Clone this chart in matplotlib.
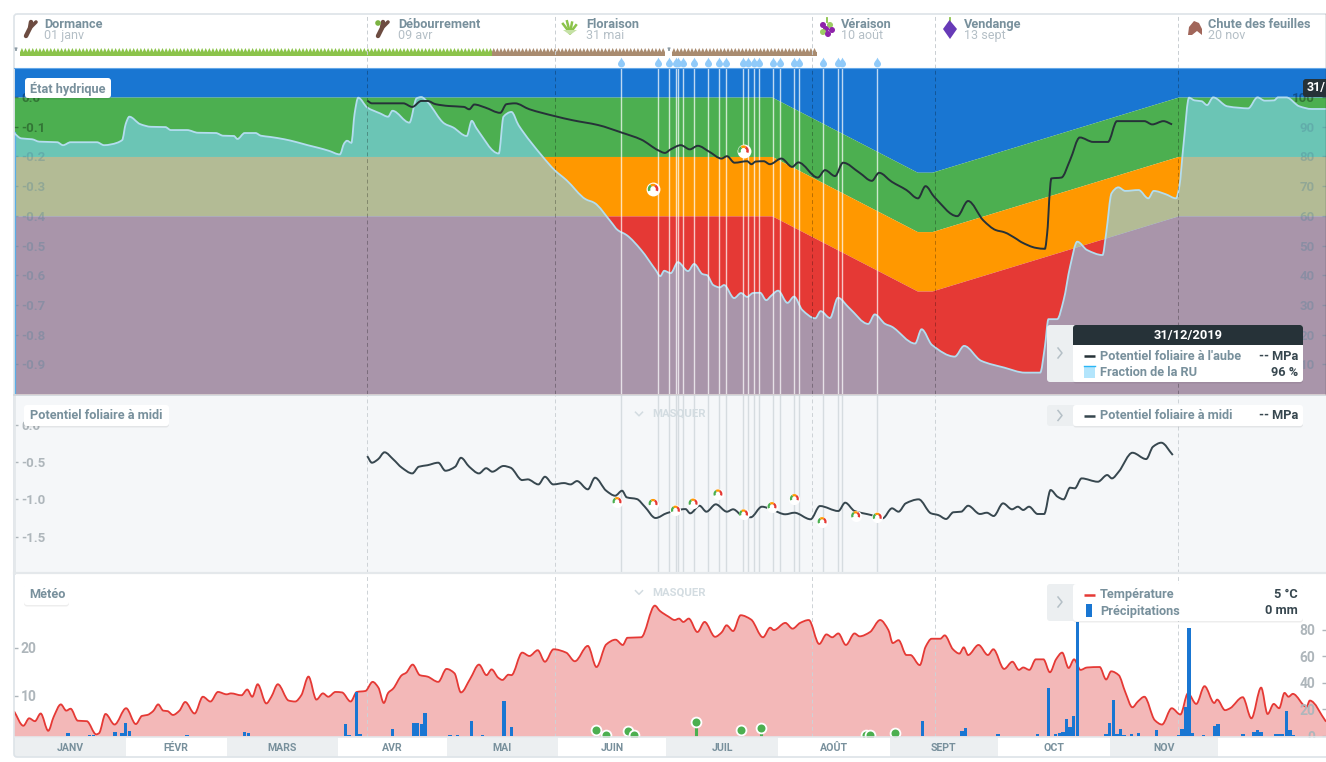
import numpy as np
import matplotlib
matplotlib.use("Agg")
import matplotlib.pyplot as plt
from matplotlib.patches import FancyBboxPatch, Rectangle, Circle, Polygon, PathPatch
from matplotlib.path import Path

plt.rcParams['font.family'] = ['Roboto', 'DejaVu Sans']
plt.rcParams['font.weight'] = 'bold'
plt.rcParams['axes.linewidth'] = 0

# ---- donnees (x = jour de l'annee 2019, 0 = 1er janv)
month_names = ["JANV", "FÉVR", "MARS", "AVR", "MAI", "JUIN", "JUIL", "AOÛT", "SEPT", "OCT", "NOV", ""]
month_days = [31, 28, 31, 30, 31, 30, 31, 31, 30, 31, 30, 30]

stage_names = ["Dormance", "Débourrement", "Floraison", "Véraison", "Vendange", "Chute des feuilles"]
stage_dates = ["01 janv", "09 avr", "31 mai", "10 août", "13 sept", "20 nov"]
stage_days = [98, 150, 221.4, 255.5, 323]

zone_days = [0, 210.3, 250.6, 254.7, 323, 364]
zone_shift = [0, 0, -0.253, -0.253, 0, 0]

irrig_days = [168.5, 178.6, 181.6, 183.6, 184.2, 185.5, 188.6, 192.5, 195.5, 197.4, 202.2,
              203.7, 205.3, 206.6, 210.5, 212.5, 216.4, 217.8, 224.4, 228.5, 229.6, 239.5]

ru_days = [0, 2, 5, 7, 12, 13.6, 15.7, 23, 25, 27, 30, 31, 32, 35, 38, 42, 43.5, 48, 51, 56, 58, 61, 62, 64, 67,
           68.5, 71, 75, 78.5, 81.5, 84.5, 87.4, 90.4, 91.6, 92.4, 93.6, 94.5, 95.5, 98, 101.6, 103.8, 105,
           109.7, 111.7, 113, 114.7, 119.4, 121.8, 125.6, 127, 128.3, 134.5, 135.8, 138, 140, 146.7, 150,
           153.3, 158.6, 161, 165.6, 167.5, 170, 174, 178, 179.3, 180.4, 182.2, 184.2, 187, 188.7, 191, 192.3,
           194, 195.8, 197, 199.8, 201.7, 203.4, 205, 207, 208.7, 210, 212, 214.6, 216.4, 218.7, 222.3, 223.8,
           226.4, 228.6, 231.7, 237, 238.8, 241.7, 243.5, 250, 251.8, 254.7, 261, 263.6, 268.3, 274.7, 280.5,
           284.7, 286, 287, 289.4, 291.2, 293, 295, 297.7, 302, 303, 304.5, 306.4, 308.3, 312, 314.7, 316.2,
           319.5, 322.4, 323.3, 324.5, 326, 327.5, 329.5, 331, 332.7, 336.6, 340, 342.4, 345, 347, 349.6, 350.7,
           353, 356.6, 360, 364]
ru_values = [87.9, 86.1, 85.8, 85, 84.8, 83.8, 84.8, 84.8, 83.8, 84.1, 85.5, 91, 93.4, 90.9, 90, 89.9, 88.9, 88.9, 88,
             87.9, 87, 86.9, 85.9, 87.9, 87.9, 87, 86.6, 85.8, 84.8, 83.8, 82.9, 81.9, 80.7, 84.4, 85.3, 84.6, 94.5,
             99.8, 96.5, 94.5, 93.4, 95.4, 91.4, 99.6, 100, 98.4, 91.1, 89.8, 86.9, 92, 89.5, 81, 93.4, 95, 90.5,
             79.9, 75.4, 72, 65.6, 64.4, 58, 55.2, 53.5, 48.5, 41.8, 39.7, 41.5, 40.7, 44.4, 41.4, 43.8, 40.4, 40,
             36.7, 35.9, 36.7, 32.3, 34, 32.7, 34, 34.1, 31.6, 33, 34.8, 30.7, 32.8, 28.3, 25.5, 27.9, 25.6, 32.4,
             29, 23.6, 26.8, 23.6, 22.7, 17, 21.8, 16.5, 12.6, 16.2, 11.2, 8.9, 7.2, 7.2, 15.9, 25.2, 25.2, 31.6,
             42.9, 51.3, 48.5, 46.8, 54.1, 67.6, 69.6, 68.4, 68.7, 65.9, 68.4, 67.3, 65.9, 69.8, 84.4, 99.8, 98.9,
             98.6, 97.3, 99.9, 96.9, 96.4, 96.2, 99.9, 98.8, 98.9, 99.9, 99.9, 96.9, 96, 96]

dawn_days = [98, 99.3, 108, 110.5, 113, 114.7, 117, 120.6, 124.8, 126.3, 127.7, 130.7, 134.9, 136.6, 139, 143, 150,
             155, 162, 168.7, 174, 178.7, 180.6, 182.2, 185, 187.5, 189.7, 192.9, 196.3, 197.8, 199.9, 203.4,
             204.6, 205.8, 208, 209.7, 212.9, 215.9, 217.6, 223, 225, 227.8, 230, 234.6, 238, 240, 243.5, 247.6,
             250.8, 252.9, 255.3, 261.7, 264.7, 268.9, 272.4, 274.7, 278.3, 279.4, 283.6, 286, 286.8, 287.2,
             287.8, 290.6, 293, 295.7, 299.4, 303.5, 306, 313.6, 315.8, 318.9, 321.3]
dawn_values = [-0.012, -0.021, -0.021, -0.033, -0.013, -0.013, -0.024, -0.03, -0.033, -0.041, -0.025, -0.035, -0.053,
               -0.024, -0.021, -0.041, -0.064, -0.078, -0.094, -0.12, -0.143, -0.179, -0.188, -0.176, -0.162, -0.176,
               -0.164, -0.184, -0.207, -0.199, -0.221, -0.216, -0.226, -0.217, -0.216, -0.226, -0.207, -0.235, -0.22,
               -0.271, -0.246, -0.266, -0.221, -0.255, -0.282, -0.255, -0.285, -0.313, -0.341, -0.3, -0.336, -0.401,
               -0.35, -0.415, -0.448, -0.455, -0.479, -0.488, -0.508, -0.511, -0.437, -0.347, -0.274, -0.271, -0.212,
               -0.136, -0.151, -0.151, -0.081, -0.081, -0.092, -0.081, -0.092]
dawn_meas_days = [177.3, 202.4]
dawn_meas_values = [-0.31, -0.181]

noon_days = [98, 99.3, 101, 102.8, 105.2, 107.6, 110.5, 112.3, 114.7, 117.7, 119.7, 122.4, 124, 126.3, 129, 131, 132.7,
             135.8, 137.8, 141, 142.5, 145.5, 147.3, 149.6, 152.6, 154.4, 156.2, 159.2, 161.2, 164.3, 166.8, 168.7,
             170, 172.8, 175, 178, 181.2, 186.3, 187.6, 190.2, 192.1, 194.7, 197.8, 199.5, 202.4, 204.4, 207.5,
             210.5, 214, 216.5, 221, 223.6, 228.7, 230.6, 233.2, 237.8, 241, 243.6, 245.4, 247.4, 251, 254.4, 256.4,
             258.6, 260.6, 262.8, 264.7, 268, 269.9, 271.8, 274.4, 276.9, 278.5, 280, 281.6, 284, 285.8, 287.6,
             289.5, 291.2, 293, 294.3, 296.2, 300.7, 303.3, 304.6, 306.5, 310.3, 314.1, 316, 318.3, 321.5]
noon_values = [-0.417, -0.506, -0.46, -0.366, -0.46, -0.573, -0.65, -0.56, -0.54, -0.506, -0.614, -0.56, -0.44, -0.56,
               -0.65, -0.58, -0.627, -0.55, -0.574, -0.74, -0.73, -0.798, -0.695, -0.798, -0.78, -0.798, -0.753,
               -0.864, -0.708, -0.883, -0.95, -0.883, -0.972, -0.995, -1.098, -1.25, -1.183, -1.13, -1.187, -1.085,
               -1.165, -1.066, -1.165, -1.133, -1.232, -1.24, -1.098, -1.142, -1.2, -1.179, -1.267, -1.089, -1.156,
               -1.044, -1.156, -1.21, -1.254, -1.12, -1.165, -1.053, -0.999, -1.187, -1.21, -1.263, -1.173, -1.165,
               -1.085, -1.196, -1.179, -1.223, -1.053, -1.133, -1.098, -1.142, -1.098, -1.196, -1.196, -0.874, -0.963,
               -0.999, -0.842, -0.851, -0.717, -0.762, -0.672, -0.717, -0.627, -0.372, -0.457, -0.291, -0.237, -0.403]
noon_meas_days = [167.3, 177.3, 183.5, 188.4, 195.3, 202.4, 210.3, 216.5, 224.2, 233.5, 239.5]
noon_meas_values = [-1.03, -1.055, -1.145, -1.05, -0.927, -1.196, -1.098, -0.99, -1.30, -1.22, -1.24]

temp_days = [0, 2.6, 4.2, 5.8, 7.4, 9.5, 11, 13, 14.5, 15.7, 17.7, 20.2, 22.8, 23.6, 25.4, 27.9, 31.1, 33.8, 35.5, 37,
             38.6, 40, 41.4, 42.6, 44.1, 45.9, 47.5, 50.1, 52.4, 54.5, 56.6, 59, 60.2, 63.1, 64.7, 66.1, 67.6, 70,
             71.4, 73.2, 76.2, 78, 79.7, 81.7, 83.9, 85.7, 87.2, 89.2, 91, 93.4, 95.1, 97.5, 99.5, 101.1, 102.6,
             103.8, 105.2, 107.6, 108.8, 110.6, 112.6, 114.7, 117.7, 120, 122.2, 124, 126.6, 129, 131.1, 132.5, 134.3,
             135.5, 137.2, 138, 141, 143, 145.3, 147.3, 149.7, 153.2, 155.6, 159.2, 161.6, 164.3, 166.9, 168.9,
             170.2, 174, 177.8, 179.2, 181.6, 183.3, 184.5, 185.7, 187.2, 189.6, 191.6, 194.5, 196.3, 197.7, 199.5,
             201.6, 204.5, 207.8, 209.8, 210.8, 214, 216, 218.1, 220.5, 223.4, 225.4, 227, 228.7, 230.8, 233.2, 234.6,
             237.5, 240.3, 242.6, 243.8, 245.4, 247.6, 248.7, 251.3, 252.9, 254.6, 257, 258.2, 260.5, 262.3, 263.5,
             264.7, 267.6, 270.2, 271.7, 274.7, 277, 278.8, 280, 281.7, 283.5, 285.6, 287.4, 289.1, 290.8, 292.6,
             294.1, 295.9, 297.7, 301.2, 303, 304.4, 306.5, 308.3, 310.3, 311.8, 313.6, 316.5, 318.5, 321.2, 323.6,
             325.7, 328, 330.3, 333, 333.8, 336, 337.4, 340.9, 343.3, 346, 347.8, 349.5, 351, 352.5, 353.6, 354.8,
             358.6, 359.5, 364]
temp_values = [6.8, 3.75, 5.3, 4.7, 6.3, 2.7, 5.6, 8.2, 6.9, 7.3, 4.8, 4.7, 1.95, 2.2, 6.2, 4, 7.4, 4.1, 5.8, 6, 6.8,
               8.2, 6.9, 6.8, 6, 6.9, 8.7, 6.3, 9.8, 8.8, 10.8, 10.3, 10.5, 10.1, 11.3, 9.8, 12.4, 8.4, 9.8, 12.4, 9,
               8.8, 10.1, 14, 9.2, 10.5, 9.8, 10.8, 10.7, 8.8, 10.8, 11, 12.9, 11.7, 8.5, 10.6, 11.5, 14.3, 14.8, 16.5,
               14.3, 14, 12.9, 15.6, 14.7, 10.7, 13.6, 16.5, 14.3, 15.5, 13.8, 13.3, 14.4, 14.3, 19, 18.3, 19.5, 17.1,
               19.7, 19, 17.2, 20.4, 16, 20.7, 21.7, 20.6, 22.1, 22.2, 28.8, 27.7, 26.5, 25.8, 26.1, 25.4, 26.1, 23.3,
               25.4, 22.3, 23.2, 24.7, 23.5, 26.8, 25.9, 22.2, 24.2, 23.7, 25.2, 24, 25.2, 25.8, 20.8, 22.8, 22.2, 23,
               20.6, 23, 22.4, 23.3, 25.8, 23.7, 21, 21.6, 18.5, 18.5, 16.4, 20.2, 21.9, 21.9, 22.6, 19.7, 18.8, 20.1,
               18.5, 20.6, 18.5, 19.7, 15.6, 17.1, 15.4, 15.9, 15.4, 17.6, 17.6, 14.9, 17.6, 19, 15.8, 17.6, 15.4,
               15.9, 16, 13.4, 15.1, 14.3, 10.8, 7.6, 8.8, 9.8, 4.9, 4, 7.4, 6.1, 10.5, 8.3, 12, 8.5, 9.2, 7, 7.4, 9.7,
               5.3, 11.7, 6.2, 8.3, 7.4, 10.6, 9.8, 10.4, 7.7, 9, 4.6]

rain_days = [15, 21, 22, 28, 30, 31, 32, 48, 64, 65, 92, 93, 95, 96, 105, 111, 112, 113, 114, 121, 123, 127, 130, 136,
             138, 252, 263, 264, 273, 284, 287, 289, 290, 291, 292, 293, 294, 295, 303, 304, 305, 306, 307, 308, 310,
             312, 317, 323, 324, 325, 326, 327, 330, 333, 334, 341, 344, 345, 346, 350, 351, 352, 353, 354, 355]
rain_values = [2, 0.5, 0.5, 3, 2, 9.5, 3.8, 0.8, 3, 2, 9, 0.8, 33, 1.5, 5.3, 10, 10, 9.3, 17.5, 0.8, 0.8, 11.3, 0.8, 26.6,
               7, 11.3, 3.8, 6.3, 1.5, 1.5, 36, 1.5, 2.5, 3.3, 12.8, 7, 15.3, 86, 1.5, 9.5, 27, 1.5, 5.3, 0.8, 1.5, 2.5,
               4.5, 0.5, 5.3, 21.8, 81, 2.5, 0.8, 7.5, 9, 1.5, 3, 4.5, 3, 1.5, 1.5, 1.2, 18.8, 4.5, 0.8]

water_days = [161.5, 164.3, 170.4, 172, 189.2, 201.7, 207.3, 236.4, 237.5, 244.4]
water_values = [4.5, 0.75, 3.8, 0.75, 10.5, 4.5, 6, 0.75, 0.75, 2.2]

# ---- mise en page
W, H = 1326, 762
GREY_TXT = "#78909C"
LIGHT_TXT = "#B4BFC6"
VALUE_TXT = "#37474F"
TICK_DARK = (0, 0, 0, 0.33)
TICK_GREY = "#AEB6BB"
TXT = 9.2


def panel(top, bottom, left=14, right=1326):
    return fig.add_axes([left / W, 1 - bottom / H, (right - left) / W, (bottom - top) / H])


def left_ticks(ax, ticks, labels, color, size=9.5):
    ax.set_yticks(ticks)
    ax.set_yticklabels(labels)
    ax.tick_params(axis='y', direction='in', length=3, width=1, color=color, labelcolor=color, pad=-5, labelsize=size)
    for t in ax.get_yticklabels():
        t.set_ha('left')


def right_ticks(ax, ticks, labels, color, size=9.5):
    ax.yaxis.tick_right()
    ax.set_yticks(ticks)
    ax.set_yticklabels(labels)
    ax.tick_params(axis='y', direction='in', length=3, width=1, color=color, labelcolor=color, pad=-8, labelsize=size)
    for t in ax.get_yticklabels():
        t.set_ha('right')


def curve_path(x, y, base=None):
    # courbe lissee entre les points lus (tangentes monotones, comme sur le graphique)
    x = np.asarray(x, float)
    y = np.asarray(y, float)
    dx = np.diff(x)
    s = np.diff(y) / dx
    m = np.zeros(len(x))
    m[0], m[-1] = s[0], s[-1]
    for i in range(1, len(x) - 1):
        if s[i - 1] * s[i] > 0:
            m[i] = 2 * s[i - 1] * s[i] / (s[i - 1] + s[i])
    verts = [(x[0], y[0])]
    codes = [Path.MOVETO]
    for i in range(len(dx)):
        verts += [(x[i] + dx[i] / 3, y[i] + m[i] * dx[i] / 3),
                  (x[i + 1] - dx[i] / 3, y[i + 1] - m[i + 1] * dx[i] / 3),
                  (x[i + 1], y[i + 1])]
        codes += [Path.CURVE4] * 3
    if base is not None:
        verts += [(x[-1], base), (x[0], base), (x[0], y[0])]
        codes += [Path.LINETO] * 3
    return Path(verts, codes)


def draw_curve(ax, x, y, col, lw):
    ax.add_patch(PathPatch(curve_path(x, y), fc='none', ec=col, lw=lw, zorder=4))


def draw_area(ax, x, y, base, col, alpha):
    ax.add_patch(PathPatch(curve_path(x, y, base), fc=col, ec='none', alpha=alpha, zorder=2))


def gauge(ax, x, y, ring, halo, lw):
    # petite jauge : halo blanc puis arc vert / orange / rouge
    ax.scatter(x, y, s=halo ** 2, c="white", zorder=8, linewidths=0)
    arcs = [(120, 205, "#4CAF50"), (60, 120, "#FF9800"), (-25, 60, "#E53935")]
    for t1, t2, col in arcs:
        ax.scatter(x, y, s=ring ** 2, marker=Path.arc(t1, t2), facecolors='none', edgecolors=col,
                   linewidths=lw, zorder=9)


fig = plt.figure(figsize=(W / 100, H / 100), dpi=100)
fig.patch.set_facecolor("white")

# ---- entete : stades et gouttes
head = panel(14, 68)
head.set_xlim(0, 364)
head.set_ylim(68, 14)
head.set_xticks([])
head.set_yticks([])
head.set_facecolor("white")

saw_stages = [(1.7, 132.6, "#8BC34A"), (132.6, 180.6, "#A98B6F"), (182.6, 222.8, "#A98B6F")]
for start, end, col in saw_stages:
    head.fill_between([start, end], 51.5, 55.5, color=col, lw=0)
    for d in np.arange(start, end - 0.5, 1.0):
        head.fill([d, d + 0.5, d + 1], [52, 48, 52], color=col, lw=0)

drop = Path([(0, 1), (0.2, 0.5), (0.72, 0.1), (0.72, -0.32), (0.72, -0.75), (0.35, -1), (0, -1), (-0.35, -1), (-0.72, -0.75),
             (-0.72, -0.32), (-0.72, 0.1), (-0.2, 0.5), (0, 1)],
            [Path.MOVETO] + [Path.CURVE4] * 12)
head.plot(irrig_days, [61.5] * len(irrig_days), ls='none', marker=drop, ms=7, color="#90CAF9", mew=0)
for d in stage_days:
    head.axvline(d, color="#C9CED2", lw=0.7, ls=(0, (4, 3)))

# ---- etat hydrique
ax1 = panel(68, 394)
ax1.set_xlim(0, 364)
ax1.set_ylim(-1.0, 0.098)
ax1.set_xticks([])
top_limit = 0.098
limit = np.array(zone_shift)
ax1.fill_between(zone_days, limit, top_limit, color="#1976D2", lw=0)
ax1.fill_between(zone_days, limit - 0.2, limit, color="#4CAF50", lw=0)
ax1.fill_between(zone_days, limit - 0.4, limit - 0.2, color="#FF9800", lw=0)
ax1.fill_between(zone_days, -1.0, limit - 0.4, color="#E53935", lw=0)
left_ticks(ax1, [-0.1 * i for i in range(10)], ["0.0"] + ["-0.%d" % i for i in range(1, 10)], TICK_DARK)

ax_ru = ax1.twinx()
ax_ru.set_xlim(0, 364)
ax_ru.set_ylim(0, 109.8)
draw_area(ax_ru, ru_days, ru_values, 0, "#81D4FA", 0.6)
draw_curve(ax_ru, ru_days, ru_values, "#B3DDEF", 1.3)
ax_ru.plot([0.15, 0.15], [0, ru_values[0]], color="#5AAEE6", lw=1.6)
right_ticks(ax_ru, list(range(10, 101, 10)), [str(i) for i in range(10, 101, 10)], TICK_DARK)

ax1b = panel(68, 394)
ax1b.patch.set_alpha(0)
ax1b.set_xlim(0, 364)
ax1b.set_ylim(-1.0, 0.098)
ax1b.set_xticks([])
ax1b.set_yticks([])
for d in stage_days:
    ax1b.axvline(d, color=(0, 0, 0, 0.28), lw=0.7, ls=(0, (4, 3)))
for d in irrig_days:
    ax1b.axvline(d, color=(1, 1, 1, 0.72), lw=1.0)
draw_curve(ax1b, dawn_days, dawn_values, "#263238", 1.4)
gauge(ax1b, dawn_meas_days, dawn_meas_values, 6, 10, 1.8)

# ---- potentiel foliaire a midi
ax2 = panel(395, 573)
ax2.set_facecolor("#F5F7F9")
ax2.set_xlim(0, 364)
ax2.set_ylim(-1.99, 0.405)
ax2.set_xticks([])
left_ticks(ax2, [0, -0.5, -1.0, -1.5], ["0.0", "-0.5", "-1.0", "-1.5"], TICK_GREY)
for d in stage_days:
    ax2.axvline(d, color="#CDD2D6", lw=0.7, ls=(0, (4, 3)))
for d in irrig_days:
    ax2.axvline(d, color="#D6DCE0", lw=1.0)
draw_curve(ax2, noon_days, noon_values, "#37474F", 1.4)
gauge(ax2, noon_meas_days, noon_meas_values, 5, 8, 1.6)

# ---- meteo
ax3 = panel(574, 737)
ax3.set_xlim(0, 364)
ax3.set_ylim(1.4, 35.4)
ax3.set_xticks([])
left_ticks(ax3, [10, 20], ["10", "20"], TICK_GREY, size=10)
draw_area(ax3, temp_days, temp_values, 1.4, "#EF9A9A", 0.7)
draw_curve(ax3, temp_days, temp_values, "#E53935", 1.3)
for d in stage_days:
    ax3.axvline(d, color="#CDD2D6", lw=0.7, ls=(0, (4, 3)))

ax3r = ax3.twinx()
ax3r.set_xlim(0, 364)
ax3r.set_ylim(-0.75, 121.8)
ax3r.bar(rain_days, rain_values, width=0.95, color="#1976D2", lw=0)
right_ticks(ax3r, [0, 20, 40, 60, 80], ["0", "20", "40", "60", "80"], TICK_GREY, size=10)
ax3r.vlines(water_days, 0, water_values, color="#4CAF50", lw=2.2)
ax3r.scatter(water_days, water_values, s=50, c="#4CAF50", edgecolors="white", linewidths=1.3, zorder=5)

# ---- bandeau des mois
ax4 = panel(738, 757)
ax4.set_xlim(0, 364)
ax4.set_ylim(0, 1)
ax4.set_xticks([])
ax4.set_yticks([])
month_starts = np.cumsum([0] + month_days[:-1])
ax4.bar(month_starts, 1, width=month_days, align='edge',
        color=["#ECEFF1" if i % 2 == 0 and i < 11 else "white" for i in range(12)], lw=0)
for s, n, name in zip(month_starts, month_days, month_names):
    ax4.text(s + n / 2, 0.47, name, ha='center', va='center', fontsize=7.6, color=GREY_TXT)

# ---- calque en pixels pour les cartouches et l'entete
ov = fig.add_axes([0, 0, 1, 1])
ov.set_xlim(0, W)
ov.set_ylim(H, 0)
ov.axis('off')
ov.patch.set_alpha(0)


def box(x0, y0, x1, y1, fc="white", shadow=True, z=3, r=3):
    if shadow:
        ov.add_patch(FancyBboxPatch((x0 + r, y0 + r + 1.5), x1 - x0 - 2 * r, y1 - y0 - 2 * r,
                                    boxstyle="round,pad=%d" % r, fc=(0, 0, 0, 0.07), ec='none', zorder=z - 1))
    ov.add_patch(FancyBboxPatch((x0 + r, y0 + r), x1 - x0 - 2 * r, y1 - y0 - 2 * r,
                                boxstyle="round,pad=%d" % r, fc=fc, ec='none', zorder=z))


def chevron(x, y, col="#B4BFC6"):
    ov.plot([x - 2, x + 2, x - 2], [y - 5, y, y + 5], color=col, lw=1.1, zorder=6)


def line_key(y, col):
    ov.plot([1084, 1095], [y, y], color=col, lw=1.8, zorder=6, solid_capstyle='butt')


# cadre general
ov.add_patch(FancyBboxPatch((17, 17), 1312, 737, boxstyle="round,pad=3", fc='none', ec="#DDE3E8", lw=1.2, zorder=2))
ov.plot([14, 14], [395, 573], color="#E4E8EB", lw=2, zorder=2)
ov.plot([14, 1326], [394.5, 394.5], color="#CFD6DB", lw=1.2, zorder=2)
ov.plot([14, 1326], [573, 573], color="#E4E8EB", lw=1.6, zorder=2)
ov.plot([14, 1326], [737, 737], color="#E4E8EB", lw=1.2, zorder=2)
ov.plot([1325.5, 1325.5], [14, 394], color="#333B40", lw=0.9, zorder=2)
ov.plot([14, 1326], [68, 68], color="#64A8E8", lw=0.8, zorder=2)

# entete
name_x = [44, 398, 586, 841, 964, 1208]
for x, name, date in zip(name_x, stage_names, stage_dates):
    ov.text(x, 24.5, name, fontsize=TXT, color=GREY_TXT, va='center', ha='left')
    ov.text(x, 35.5, date, fontsize=9, color=LIGHT_TXT, va='center', ha='left', fontweight='normal')

# icones de stades
for x0 in [26, 378]:
    ov.plot([x0, x0 + 4, x0 + 5], [36, 28, 22], color="#6D4C41", lw=3.2, solid_capstyle='round', zorder=4)
    ov.plot([x0 + 4, x0 + 10], [28, 22], color="#6D4C41", lw=2.6, solid_capstyle='round', zorder=4)
ov.add_patch(Circle((378, 23), 2.8, fc="#7CB342", ec='none', zorder=5))
for dx, dy in [(-7, -7), (-3, -9), (2, -8), (6, -6)]:
    ov.plot([570, 570 + dx], [33, 33 + dy * 1.3], color="#8BC34A", lw=1.8, zorder=4)
ov.add_patch(Polygon([(563, 30), (577, 30), (570, 35)], fc="#C5E1A5", ec='none', zorder=4))
ov.plot([827, 827], [18, 22], color="#8BC34A", lw=1.3, zorder=4)
for gx, gy, col in [(823, 25, "#8E24AA"), (830, 25, "#9CCC65"), (826, 29, "#8E24AA"), (832, 30, "#8E24AA"),
                    (823, 32, "#9CCC65"), (828, 34, "#8E24AA")]:
    ov.add_patch(Circle((gx, gy), 3, fc=col, ec='none', zorder=4))
ov.plot([949.5, 949.5], [18, 22], color="#8BC34A", lw=1.3, zorder=4)
ov.add_patch(Polygon([(949.5, 20), (957, 29), (950, 39), (943, 29)], fc="#673AB7", ec='none', zorder=4))
ov.add_patch(Polygon([(1188, 35), (1189, 27), (1194, 21), (1199, 23), (1202, 29), (1202, 35), (1197, 31), (1192, 35)],
                     fc="#A1665A", ec='none', zorder=4))

# petites fleches du bandeau de stades
for x, col in [(16, "#8B9AA3"), (669, "#8B9AA3")]:
    ov.annotate("", (x, 54), (x, 47), arrowprops=dict(arrowstyle="-|>", color=col, lw=0.7, mutation_scale=4), zorder=4)

# titres de panneaux
box(25, 78, 111, 98)
ov.text(30, 88.5, "État hydrique", fontsize=TXT, color=GREY_TXT, va='center', zorder=6)
box(24, 405, 169, 426)
ov.text(29.5, 415.5, "Potentiel foliaire à midi", fontsize=TXT, color=GREY_TXT, va='center', zorder=6)
box(24, 584, 69, 605)
ov.text(29.5, 594.5, "Météo", fontsize=TXT, color=GREY_TXT, va='center', zorder=6)

# masquer
for y in [414, 592.5]:
    ov.text(652, y, "MASQUER", fontsize=8.2, color="#D3DCE1", va='center', zorder=6)
    ov.plot([635.5, 639, 642.5], [y - 1.8, y + 1.8, y - 1.8], color="#D3DCE1", lw=1.1, zorder=6)

# info-bulle etat hydrique
box(1047, 325, 1085, 382, fc="#ECEFF1", shadow=False)
box(1073, 325, 1303, 382)
ov.add_patch(FancyBboxPatch((1076, 328), 224, 14, boxstyle="round,pad=3", fc="#263238", ec='none', zorder=4))
ov.add_patch(Rectangle((1073, 340), 230, 5, fc="#263238", ec='none', zorder=4))
chevron(1060, 353)
ov.text(1188, 335.5, "31/12/2019", fontsize=9.3, color="white", ha='center', va='center', zorder=6)
line_key(356, "#263238")
ov.text(1100, 356, "Potentiel foliaire à l'aube", fontsize=TXT, color=GREY_TXT, va='center', zorder=6)
ov.text(1298, 356, "-- MPa", fontsize=TXT, color=VALUE_TXT, va='center', ha='right', zorder=6)
ov.add_patch(Rectangle((1084, 366), 11, 12, fc="#B3E5FC", ec='none', zorder=6))
ov.plot([1084, 1095], [366, 366], color="#29B6F6", lw=1, zorder=7)
ov.text(1100, 372, "Fraction de la RU", fontsize=TXT, color=GREY_TXT, va='center', zorder=6)
ov.text(1298, 372, "96 %", fontsize=TXT, color=VALUE_TXT, va='center', ha='right', zorder=6)

# info-bulle midi
box(1047, 405, 1085, 426, fc="#ECEFF1", shadow=False)
box(1073, 405, 1303, 426)
chevron(1060, 415.5)
line_key(415.5, "#37474F")
ov.text(1100, 415.5, "Potentiel foliaire à midi", fontsize=TXT, color=GREY_TXT, va='center', zorder=6)
ov.text(1298, 415.5, "-- MPa", fontsize=TXT, color=VALUE_TXT, va='center', ha='right', zorder=6)

# info-bulle meteo
box(1047, 584, 1085, 621, fc="#ECEFF1", shadow=False)
box(1073, 584, 1303, 621)
chevron(1060, 602)
line_key(594.5, "#E53935")
ov.text(1100, 594.5, "Température", fontsize=TXT, color=GREY_TXT, va='center', zorder=6)
ov.text(1298, 594.5, "5 °C", fontsize=TXT, color=VALUE_TXT, va='center', ha='right', zorder=6)
ov.add_patch(Rectangle((1086, 604), 6, 13, fc="#1976D2", ec='none', zorder=6))
ov.text(1100, 611, "Précipitations", fontsize=TXT, color=GREY_TXT, va='center', zorder=6)
ov.text(1298, 611, "0 mm", fontsize=TXT, color=VALUE_TXT, va='center', ha='right', zorder=6)

# date coupee a droite
box(1303, 79, 1332, 97, fc="#263238", shadow=False)
ov.text(1307, 88, "31/", fontsize=9, color="white", va='center', zorder=6, clip_on=True)

fig.savefig("out.png", dpi=100)
